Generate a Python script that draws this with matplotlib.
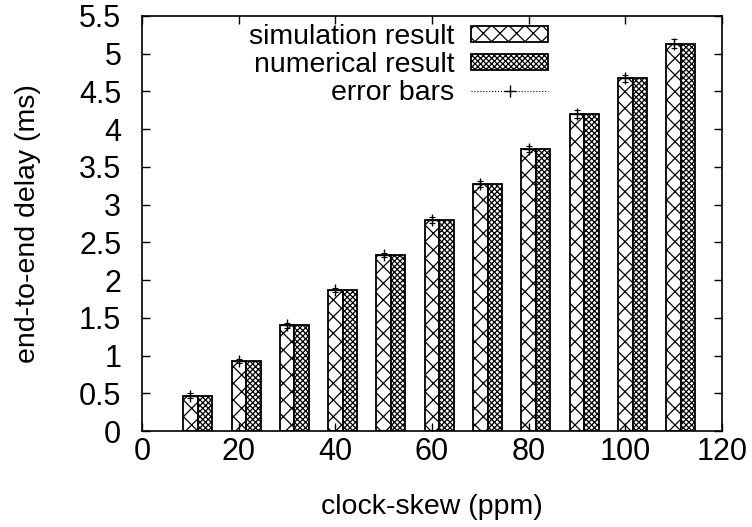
import matplotlib
matplotlib.use('Agg')
from matplotlib import pyplot as plt
from matplotlib.patches import Patch
from matplotlib.lines import Line2D

# clock skew (ppm)
skew = [10, 20, 30, 40, 50, 60, 70, 80, 90, 100, 110]
# end-to-end delay (ms)
sim_delay = [0.47, 0.93, 1.40, 1.87, 2.33, 2.80, 3.27, 3.73, 4.20, 4.67, 5.13]
num_delay = [0.47, 0.93, 1.40, 1.87, 2.33, 2.80, 3.27, 3.73, 4.20, 4.67, 5.13]
sim_err = [0.03, 0.03, 0.03, 0.03, 0.03, 0.04, 0.04, 0.04, 0.05, 0.05, 0.06]

plt.rcParams['font.family'] = ['Liberation Sans', 'DejaVu Sans']
plt.rcParams['font.size'] = 20.5
plt.rcParams['hatch.linewidth'] = 0.9

fig = plt.figure(figsize=(7.52, 5.27), dpi=100)
ax = fig.add_axes([0.189, 0.182, 0.771, 0.788])

w = 3
ax.bar(skew, sim_delay, width=w, facecolor='white', edgecolor='black',
       hatch='xx', linewidth=1.3)
ax.bar([s + w for s in skew], num_delay, width=w, facecolor='white',
       edgecolor='black', hatch='xxxxxx', linewidth=1.3)
ax.errorbar(skew, sim_delay, yerr=sim_err, fmt='+', color='black',
            markersize=8, elinewidth=0.8, capsize=2, capthick=0.8)

ax.set_xlim(0, 120)
ax.set_ylim(0, 5.5)
ax.set_xticks(range(0, 121, 20))
ax.set_yticks([i * 0.5 for i in range(12)])
ax.set_yticklabels(['0', '0.5', '1', '1.5', '2', '2.5', '3', '3.5', '4',
                    '4.5', '5', '5.5'])
ax.tick_params(direction='in', top=True, right=True, length=6, width=1,
               labelsize=22)
ax.tick_params(axis='y', pad=15)
ax.tick_params(axis='x', pad=4)
for sp in ax.spines.values():
    sp.set_linewidth(1.2)

ax.set_xlabel('clock-skew (ppm)', fontsize=20.5, labelpad=20)
ax.set_ylabel('end-to-end delay (ms)', fontsize=20.5, labelpad=27)

handles = [
    Patch(facecolor='white', edgecolor='black', hatch='xx', linewidth=1.3),
    Patch(facecolor='white', edgecolor='black', hatch='xxxxxx', linewidth=1.3),
    Line2D([], [], color='black', linestyle=':', linewidth=0.8,
           marker='+', markersize=8, markevery=[1]),
]
labels = ['simulation result', 'numerical result', 'error bars']
leg = ax.legend(handles, labels, loc='upper right',
                bbox_to_anchor=(0.72, 1.007), frameon=False,
                markerfirst=False, handlelength=2.7, handleheight=0.5,
                labelspacing=0.07, handletextpad=0.6, fontsize=20.5,
                borderaxespad=0)
for t in leg.get_texts():
    t.set_ha('right')

fig.savefig('out.png', dpi=100)
